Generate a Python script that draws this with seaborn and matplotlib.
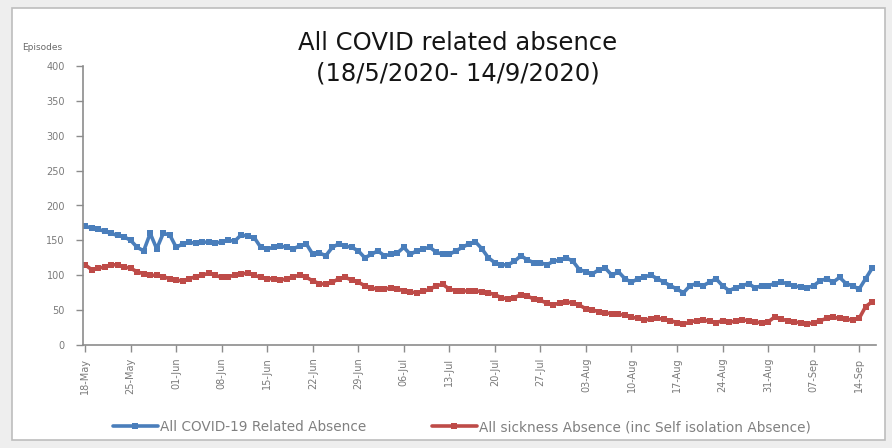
import numpy as np
import pandas as pd
import matplotlib
matplotlib.use("Agg")
import matplotlib.pyplot as plt
import matplotlib.dates as mdates
from matplotlib.patches import Rectangle
import seaborn as sns

# ---- data (daily, 18 May 2020 - 16 Sep 2020) ----
start_date = "2020-05-18"
covid_related = [
    170, 168, 166, 163, 160, 157, 155,
    150, 140, 135, 160, 138, 160, 158,
    140, 145, 147, 146, 148, 147, 146,
    148, 150, 149, 158, 156, 154, 140,
    138, 140, 142, 140, 138, 142, 145,
    130, 132, 128, 140, 145, 142, 140,
    135, 125, 130, 135, 128, 130, 132,
    140, 130, 135, 138, 140, 133, 130,
    130, 135, 140, 145, 148, 138, 125,
    118, 115, 115, 120, 128, 122, 118,
    118, 115, 120, 122, 125, 120, 108,
    105, 102, 108, 110, 100, 105, 95,
    90, 95, 98, 100, 95, 90, 85,
    80, 75, 85, 88, 85, 90, 95,
    85, 78, 82, 85, 88, 82, 85,
    85, 88, 90, 88, 85, 83, 82,
    85, 92, 95, 90, 97, 88, 85,
    80, 95, 110,
]
all_sickness = [
    115, 108, 110, 112, 115, 115, 112,
    110, 105, 102, 100, 100, 98, 95,
    93, 92, 95, 98, 100, 103, 100,
    97, 98, 100, 102, 103, 100, 97,
    95, 95, 93, 95, 98, 100, 97,
    92, 88, 87, 90, 95, 97, 93,
    90, 85, 82, 80, 80, 82, 80,
    78, 76, 75, 77, 80, 85, 87,
    80, 78, 77, 78, 78, 76, 75,
    72, 68, 66, 68, 72, 70, 66,
    64, 60, 58, 60, 62, 60, 57,
    52, 50, 48, 46, 45, 44, 43,
    40, 38, 36, 37, 38, 37, 35,
    32, 30, 33, 35, 36, 34, 32,
    35, 33, 34, 36, 35, 33, 32,
    33, 40, 37, 35, 33, 32, 30,
    32, 35, 38, 40, 38, 37, 36,
    38, 55, 62,
]
series_names = ["All COVID-19 Related Absence",
                "All sickness Absence (inc Self isolation Absence)"]
y_ticks = [0, 50, 100, 150, 200, 250, 300, 350, 400]
title_text = "All COVID related absence\n(18/5/2020- 14/9/2020)"
y_label = "Episodes"

dates = pd.date_range(start_date, periods=len(covid_related), freq="D")
df = pd.DataFrame({
    "date": np.concatenate([dates, dates]),
    "value": covid_related + all_sickness,
    "series": [series_names[0]] * len(dates) + [series_names[1]] * len(dates),
})

# ---- figure ----
sns.set_style("white")
plt.rcParams["font.family"] = ["DejaVu Sans"]

fig = plt.figure(figsize=(8.92, 4.48), dpi=100, facecolor="#eeeeee")
fig.patches.append(Rectangle((12 / 892, 8 / 448), (885 - 12) / 892, (440 - 8) / 448,
                             transform=fig.transFigure, facecolor="white",
                             edgecolor="#bdbdbd", linewidth=1.2, zorder=-10))
ax = fig.add_axes([83 / 892, 1 - 345 / 448, (876 - 83) / 892, (345 - 66) / 448])
ax.set_facecolor("none")
ax.set_zorder(5)

palette = {series_names[0]: "#4a7ebb", series_names[1]: "#be4b48"}
sns.lineplot(data=df, x="date", y="value", hue="series", style="series",
             palette=palette, markers=["s", "s"], dashes=False,
             markersize=4, markeredgewidth=0, linewidth=2.6, ax=ax)

ax.set_ylim(0, 400)
ax.set_yticks(y_ticks)
ax.set_yticklabels([str(t) for t in y_ticks])
ax.set_xlim(dates[0] - pd.Timedelta(hours=8), dates[0] + pd.Timedelta(days=121.6))
ax.set_xticks(pd.date_range(start_date, "2020-09-14", freq="7D"))
ax.xaxis.set_major_formatter(mdates.DateFormatter("%d-%b"))

for s in ["top", "right"]:
    ax.spines[s].set_visible(False)
for s in ["left", "bottom"]:
    ax.spines[s].set_color("#8c8c8c")
    ax.spines[s].set_linewidth(1.2)
ax.tick_params(axis="both", colors="#8c8c8c", labelcolor="#7a7a7a",
               length=5, width=1, direction="out", labelsize=7)
ax.tick_params(axis="y", pad=8)
ax.tick_params(axis="x", labelrotation=90, pad=4)
ax.tick_params(left=True, bottom=True)
ax.set_xlabel("")
ax.set_ylabel("")

fig.text(22 / 892, 1 - 47 / 448, y_label, fontsize=6.5, color="#6a6a6a",
         ha="left", va="center")
fig.text(458 / 892, 1 - 58 / 448, title_text, fontsize=17.5, color="#151515",
         ha="center", va="center", linespacing=1.32)

handles, labels = ax.get_legend_handles_labels()
ax.legend(handles, labels, loc="center", bbox_to_anchor=(462 / 892, 1 - 427 / 448),
          bbox_transform=fig.transFigure, ncol=2, frameon=False, fontsize=9.8,
          labelcolor="#808080", columnspacing=4.8, handlelength=3.3,
          handletextpad=0.2)

fig.savefig("out.png", dpi=100, facecolor=fig.get_facecolor())
